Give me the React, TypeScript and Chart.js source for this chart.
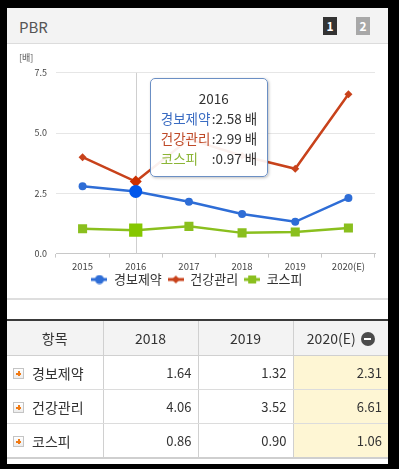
import React, { useEffect, useRef } from 'react';
import { Chart, registerables } from 'chart.js';

Chart.register(...registerables);

const years = ['2015', '2016', '2017', '2018', '2019', '2020(E)'];
const seriesNames = ['경보제약', '건강관리', '코스피'];
const kbValues = [2.79, 2.58, 2.15, 1.64, 1.32, 2.31];
const healthValues = [4.0, 2.99, 4.75, 4.06, 3.52, 6.61];
const kospiValues = [1.03, 0.97, 1.13, 0.86, 0.9, 1.06];
const yTicks = [0, 2.5, 5, 7.5];
const tableYearIdx = [3, 4, 5];
const activeIndex = 1;
const unitLabel = '[배]';
const unit = '배';
const titleText = 'PBR';
const tableHead = '항목';

const BLUE = '#2e6dd6';
const RED = '#c8421b';
const GREEN = '#8abf1e';
const TIP_COLORS = ['#3a6cc2', '#bf4a28', '#8bb536'];
const FONT = "'Noto Sans CJK KR', 'Noto Sans', sans-serif";

function makeIcon(color: string, shape: string): HTMLCanvasElement {
  const c = document.createElement('canvas');
  c.width = 16;
  c.height = 10;
  const ctx = c.getContext('2d')!;
  ctx.strokeStyle = color;
  ctx.fillStyle = color;
  ctx.lineWidth = 3;
  ctx.beginPath();
  ctx.moveTo(0, 5);
  ctx.lineTo(16, 5);
  ctx.stroke();
  ctx.beginPath();
  if (shape === 'circle') {
    ctx.arc(8, 5, 4.5, 0, Math.PI * 2);
  } else if (shape === 'diamond') {
    ctx.moveTo(8, 1);
    ctx.lineTo(12, 5);
    ctx.lineTo(8, 9);
    ctx.lineTo(4, 5);
    ctx.closePath();
  } else {
    ctx.rect(4, 1, 8, 8);
  }
  ctx.fill();
  return c;
}

const seriesValues = [kbValues, healthValues, kospiValues];

function PlusIcon() {
  return (
    <span
      style={{
        display: 'inline-block',
        position: 'relative',
        width: 11,
        height: 11,
        border: '1px solid #c4c4c4',
        background: 'linear-gradient(#ffffff, #ececec)',
        verticalAlign: 'middle',
        marginRight: 8,
        boxSizing: 'border-box',
      }}
    >
      <span style={{ position: 'absolute', left: 2, top: 3.5, width: 5, height: 2, background: '#f07a14' }} />
      <span style={{ position: 'absolute', left: 3.5, top: 2, width: 2, height: 5, background: '#f07a14' }} />
    </span>
  );
}

function MinusIcon() {
  return (
    <span
      style={{
        display: 'inline-block',
        position: 'relative',
        width: 14,
        height: 14,
        borderRadius: 7,
        background: '#4b4b4b',
        verticalAlign: 'middle',
        marginLeft: 5,
        marginTop: -3,
      }}
    >
      <span style={{ position: 'absolute', left: 3.5, top: 6, width: 7, height: 2, background: '#fff' }} />
    </span>
  );
}

export default function App() {
  const canvasRef = useRef<HTMLCanvasElement | null>(null);
  const tipRef = useRef<HTMLDivElement | null>(null);

  useEffect(() => {
    const canvas = canvasRef.current;
    if (!canvas) return;
    Chart.defaults.font.family = FONT;
    const icons = [makeIcon(BLUE, 'circle'), makeIcon(RED, 'diamond'), makeIcon(GREEN, 'square')];

    const crosshair = {
      id: 'crosshair',
      beforeDatasetsDraw(chart: any) {
        const act = chart.getActiveElements();
        if (!act.length) return;
        const x = Math.round(act[0].element.x) + 0.5;
        const { top, bottom } = chart.chartArea;
        const ctx = chart.ctx;
        ctx.save();
        ctx.strokeStyle = '#cfcfcf';
        ctx.lineWidth = 1;
        ctx.beginPath();
        ctx.moveTo(x, top);
        ctx.lineTo(x, bottom);
        ctx.stroke();
        ctx.restore();
      },
    };

    const legendShift = {
      id: 'legendShift',
      afterLayout(chart: any) {
        if (chart.legend) {
          chart.legend.top -= 8;
          chart.legend.bottom -= 8;
        }
      },
    };

    const external = ({ chart, tooltip }: any) => {
      const el = tipRef.current;
      if (!el) return;
      const pts = tooltip.dataPoints || [];
      if (!pts.length) {
        el.style.display = 'none';
        return;
      }
      el.innerHTML = '';
      const t = document.createElement('div');
      t.textContent = pts[0].label;
      t.style.textAlign = 'center';
      t.style.color = '#333';
      el.appendChild(t);
      pts.forEach((p: any) => {
        const row = document.createElement('div');
        const name = document.createElement('span');
        name.textContent = p.dataset.label;
        name.style.color = TIP_COLORS[p.datasetIndex];
        name.style.display = 'inline-block';
        name.style.width = '51px';
        const val = document.createElement('span');
        val.textContent = ':' + Number(p.raw).toFixed(2) + ' ' + unit;
        val.style.color = '#333';
        row.appendChild(name);
        row.appendChild(val);
        el.appendChild(row);
      });
      el.style.display = 'block';
      el.style.left = pts[0].element.x + 14 + 'px';
      el.style.top = chart.chartArea.top + 5 + 'px';
    };

    const colors = [BLUE, RED, GREEN];
    const styles = ['circle', 'rectRot', 'rect'];
    const radii = [4, 4, 6.4];
    const hoverRadii = [6.5, 6, 9.4];

    const chart = new Chart(canvas, {
      type: 'line',
      data: {
        labels: years,
        datasets: seriesNames.map((n, i) => ({
          label: n,
          data: seriesValues[i],
          borderColor: colors[i],
          backgroundColor: colors[i],
          borderWidth: 2.5,
          pointStyle: styles[i] as any,
          pointRadius: radii[i],
          pointHoverRadius: hoverRadii[i],
          pointBorderWidth: 0,
          pointHoverBorderWidth: 0,
          tension: 0,
        })),
      },
      options: {
        responsive: false,
        animation: false,
        events: [],
        interaction: { mode: 'index', intersect: false },
        layout: { padding: { left: 12, right: 13, top: 0, bottom: 0 } },
        scales: {
          x: {
            offset: true,
            grid: { display: true, drawOnChartArea: false, drawTicks: true, tickLength: 4, color: '#c8c8c8', offset: true },
            border: { display: true, color: '#c8c8c8' },
            ticks: { font: { size: 9.5 }, color: '#444', padding: 3, maxRotation: 0, autoSkip: false },
          },
          y: {
            min: 0,
            max: 7.5,
            afterBuildTicks: (s: any) => {
              s.ticks = yTicks.map((v) => ({ value: v }));
            },
            afterFit: (s: any) => {
              s.width = 37;
            },
            grid: { color: '#e6e6e6', drawTicks: false },
            border: { display: false },
            ticks: { font: { size: 9 }, color: '#444', padding: 9, callback: (v: any) => Number(v).toFixed(1) },
          },
        },
        plugins: {
          title: {
            display: true,
            text: unitLabel,
            align: 'start',
            font: { size: 9, weight: 'normal' },
            color: '#555',
            padding: { top: 8, bottom: 10 },
          },
          legend: {
            position: 'bottom',
            labels: {
              usePointStyle: true,
              pointStyleWidth: 16,
              boxHeight: 10,
              padding: 6,
              font: { size: 13 },
              color: '#333',
              generateLabels: (ch: any) =>
                Chart.defaults.plugins.legend.labels.generateLabels(ch).map((l: any, i: number) => ({
                  ...l,
                  pointStyle: icons[i],
                })),
            },
          },
          tooltip: { enabled: false, external, mode: 'index', intersect: false },
        },
      },
      plugins: [crosshair, legendShift],
    } as any);

    const active = chart.data.datasets.map((_, i) => ({ datasetIndex: i, index: activeIndex }));
    chart.tooltip!.setActiveElements(active, { x: 0, y: 0 });
    chart.setActiveElements(active);
    chart.update();

    return () => chart.destroy();
  }, []);

  const cellBase: React.CSSProperties = {
    borderBottom: '1px solid #dcdcdc',
    borderLeft: '1px solid #d0d0d0',
    padding: '0 6px',
    height: 33,
    fontSize: 13,
    color: '#333',
    textAlign: 'right',
  };
  const headBase: React.CSSProperties = {
    borderBottom: '1px solid #d0d0d0',
    borderLeft: '1px solid #d0d0d0',
    height: 34,
    fontSize: 14,
    color: '#333',
    fontWeight: 'normal',
    textAlign: 'center',
    background: '#f3f3f3',
    padding: 0,
  };

  return (
    <div
      style={{
        position: 'fixed',
        left: 0,
        top: 0,
        width: 399,
        height: 469,
        background: '#000',
        overflow: 'hidden',
        fontFamily: FONT,
      }}
    >
      <div style={{ position: 'absolute', left: 7, top: 8, width: 381, height: 456, background: '#fff' }}>
        <div
          style={{
            position: 'absolute',
            left: 0,
            top: 0,
            width: 381,
            height: 35,
            background: '#f3f3f3',
            borderBottom: '1px solid #dcdcdc',
          }}
        >
          <div style={{ position: 'absolute', left: 12, top: 0, lineHeight: '37px', fontSize: 15, color: '#555' }}>
            {titleText}
          </div>
          <div
            style={{
              position: 'absolute',
              left: 316,
              top: 9,
              width: 14,
              height: 18,
              background: '#333',
              color: '#fff',
              fontSize: 12,
              fontWeight: 'bold',
              textAlign: 'center',
              lineHeight: '18px',
            }}
          >
            1
          </div>
          <div
            style={{
              position: 'absolute',
              left: 349,
              top: 9,
              width: 14,
              height: 18,
              background: '#a8a8a8',
              color: '#fff',
              fontSize: 12,
              fontWeight: 'bold',
              textAlign: 'center',
              lineHeight: '18px',
            }}
          >
            2
          </div>
        </div>

        <div style={{ position: 'absolute', left: 0, top: 36, width: 381, height: 260 }}>
          <canvas ref={canvasRef} width={381} height={260} style={{ width: 381, height: 260, display: 'block' }} />
          <div
            ref={tipRef}
            style={{
              position: 'absolute',
              display: 'none',
              width: 118,
              height: 99,
              boxSizing: 'border-box',
              padding: '9px 0 0 10px',
              background: 'rgba(255,255,255,0.92)',
              border: '1px solid #6b8fc4',
              borderRadius: 5,
              boxShadow: '1px 1px 3px rgba(0,0,0,0.25)',
              fontSize: 13.5,
              lineHeight: '20px',
              whiteSpace: 'nowrap',
            }}
          />
        </div>

        <div style={{ position: 'absolute', left: 0, top: 290, width: 381, height: 2, background: '#dedede' }} />

        <table
          style={{
            position: 'absolute',
            left: 0,
            top: 311,
            width: 381,
            borderCollapse: 'collapse',
            tableLayout: 'fixed',
            borderTop: '2px solid #3a3a3a',
            borderBottom: '2px solid #cfcfcf',
            fontFamily: FONT,
          }}
        >
          <colgroup>
            <col style={{ width: 96 }} />
            <col style={{ width: 95 }} />
            <col style={{ width: 95 }} />
            <col style={{ width: 95 }} />
          </colgroup>
          <thead>
            <tr>
              <th style={{ ...headBase, borderLeft: 'none' }}>{tableHead}</th>
              {tableYearIdx.map((yi, k) => (
                <th key={yi} style={headBase}>
                  {years[yi]}
                  {k === tableYearIdx.length - 1 ? <MinusIcon /> : null}
                </th>
              ))}
            </tr>
          </thead>
          <tbody>
            {seriesNames.map((n, si) => (
              <tr key={n}>
                <td style={{ ...cellBase, borderLeft: 'none', textAlign: 'left', fontSize: 14, paddingLeft: 6 }}>
                  <PlusIcon />
                  <span style={{ verticalAlign: 'middle' }}>{n}</span>
                </td>
                {tableYearIdx.map((yi, k) => (
                  <td
                    key={yi}
                    style={{
                      ...cellBase,
                      background: k === tableYearIdx.length - 1 ? '#fef6d4' : '#fff',
                      borderBottom: si === seriesNames.length - 1 ? 'none' : cellBase.borderBottom,
                    }}
                  >
                    {seriesValues[si][yi].toFixed(2)}
                  </td>
                ))}
              </tr>
            ))}
          </tbody>
        </table>
      </div>
    </div>
  );
}
